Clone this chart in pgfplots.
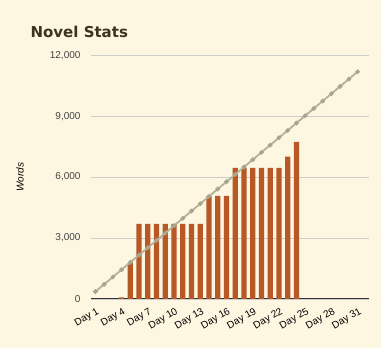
\documentclass[border=0pt]{standalone}
\usepackage{fontspec}
\setmainfont{Liberation Sans}
\newfontfamily\titlefont{DejaVu Sans}
\usepackage{pgfplots}
\pgfplotsset{compat=1.18}
\definecolor{bgc}{HTML}{FDF6E0}
\definecolor{barc}{HTML}{B85826}
\definecolor{linec}{HTML}{B4B19B}
\definecolor{markc}{HTML}{A8A58E}
\definecolor{gridc}{HTML}{CCCCCC}
\definecolor{titlec}{HTML}{3D3420}
\definecolor{tickc}{HTML}{444444}
\begin{document}
\begin{tikzpicture}
\fill[bgc] (0,0) rectangle (381pt,348pt);
\begin{axis}[
  at={(91pt,49pt)}, anchor=south west,
  scale only axis, width=278pt, height=243.7pt,
  xmin=0.5, xmax=32.3, ymin=0, ymax=12000,
  axis x line*=bottom, axis y line*=left,
  x axis line style={draw=black!80, line width=1pt, -},
  y axis line style={draw=none},
  xtick={1,4,...,31},
  xticklabels={Day 1,Day 4,Day 7,Day 10,Day 13,Day 16,Day 19,Day 22,Day 25,Day 28,Day 31},
  ytick={0,3000,6000,9000,12000},
  major tick length=0pt,
  xtick style={draw=none}, ytick style={draw=none},
  ymajorgrids, grid style={gridc, line width=0.8pt},
  /pgf/number format/assume math mode=true,
  /pgf/number format/1000 sep={,},
  scaled y ticks=false,
  yticklabel style={font=\fontsize{10}{12}\selectfont, text=tickc, xshift=-7pt},
  xticklabel style={font=\fontsize{10}{12}\selectfont, text=black, rotate=30, anchor=north east, xshift=0pt, yshift=-4pt},
  ylabel={Words},
  ylabel style={font=\fontsize{10}{12}\selectfont\itshape, at={(rel axis cs:-0.255,0.5)}, anchor=center, rotate=0},
  title={Novel Stats},
  title style={font=\titlefont\bfseries\fontsize{15}{18}\selectfont, text=titlec, at={(rel axis cs:-0.230,1.049)}, anchor=base west},
  clip=false,
]
\addplot[ybar, bar width=5.2pt, fill=barc, draw=none] coordinates {
(4,80) (5,1770) (6,3700) (7,3700) (8,3700) (9,3700) (10,3700) (11,3700) (12,3700) (13,3700)
(14,5080) (15,5080) (16,5080) (17,6457) (18,6457) (19,6457) (20,6457) (21,6457) (22,6457)
(23,7013) (24,7736)
};
\addplot[linec, line width=1.8pt, mark=*, mark size=1.3pt, mark options={fill=markc, draw=markc}] coordinates {
(1,361) (2,722) (3,1083) (4,1444) (5,1805) (6,2166) (7,2527) (8,2888) (9,3249) (10,3610)
(11,3971) (12,4332) (13,4693) (14,5054) (15,5415) (16,5776) (17,6137) (18,6498) (19,6859) (20,7220)
(21,7581) (22,7942) (23,8303) (24,8664) (25,9025) (26,9386) (27,9747) (28,10108) (29,10469) (30,10830) (31,11191)
};
\end{axis}
\pgfresetboundingbox
\useasboundingbox (0,0) rectangle (381pt,348pt);
\end{tikzpicture}
\end{document}
